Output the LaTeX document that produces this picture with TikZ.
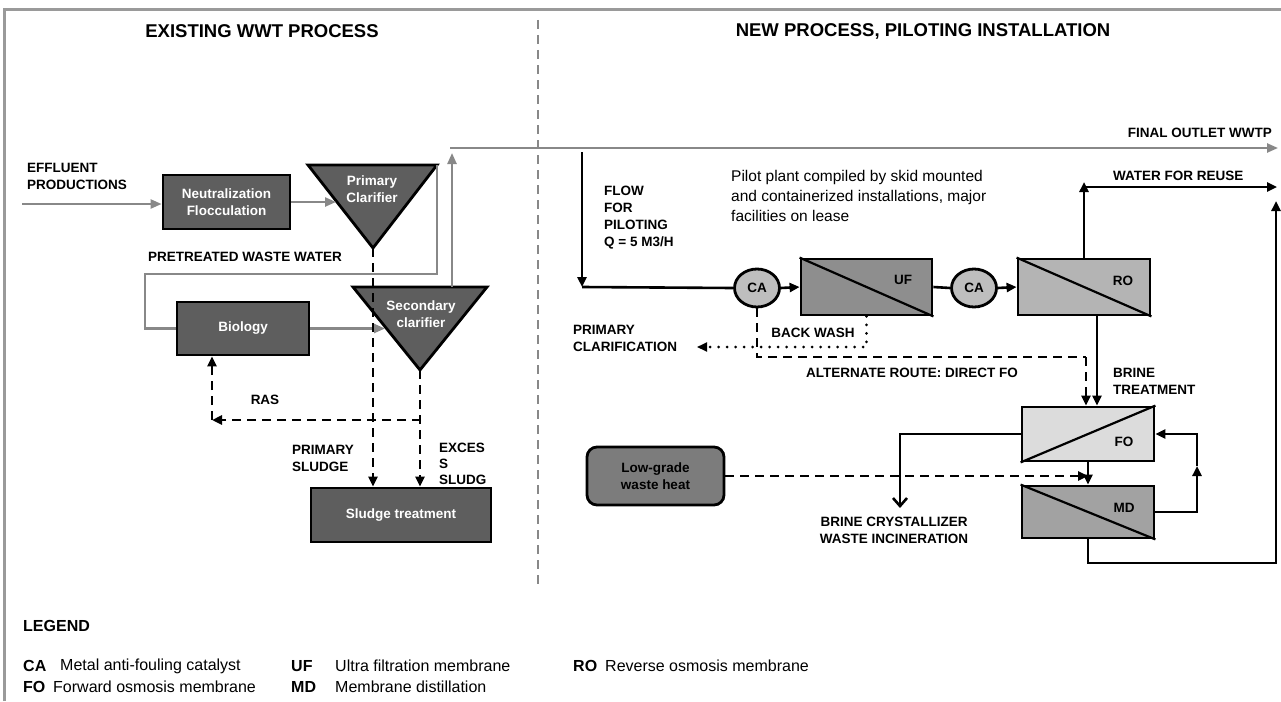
\documentclass[tikz,border=0pt]{standalone}
\usepackage{fontspec}
\setmainfont{Liberation Sans}
\usetikzlibrary{arrows.meta,shapes.geometric}
\definecolor{dk}{HTML}{5E5E5E}
\definecolor{linegray}{HTML}{888888}
\definecolor{framegray}{HTML}{9A9A9A}
\definecolor{cafill}{HTML}{BEBEBE}
\definecolor{uffill}{HTML}{8E8E8E}
\definecolor{rofill}{HTML}{B4B4B4}
\definecolor{fofill}{HTML}{DCDCDC}
\definecolor{mdfill}{HTML}{A2A2A2}
\definecolor{heatfill}{HTML}{7C7C7C}
\begin{document}
\begin{tikzpicture}[x=1pt,y=-1pt,
  lbl/.style={font=\fontsize{13.5}{17}\selectfont\bfseries, inner sep=0pt, align=left},
  head/.style={font=\fontsize{18.5}{22}\selectfont\bfseries, inner sep=0pt},
  boxd/.style={draw=black, line width=2.8pt, fill=dk, text=white, font=\fontsize{13.5}{17}\selectfont\bfseries, align=center, inner sep=0pt},
  memb/.style={draw=black, line width=2.8pt, inner sep=0pt},
  cat/.style={ellipse, draw=black, line width=2.8pt, fill=cafill, minimum width=45pt, minimum height=38pt, inner sep=0pt, font=\fontsize{13.5}{16}\selectfont\bfseries},
  gline/.style={draw=linegray, line width=2.3pt},
  garrow/.style={gline, -{Triangle[length=11pt,width=9pt]}},
  bline/.style={draw=black, line width=2.6pt},
  barrow/.style={bline, -{Triangle[length=10pt,width=9pt]}},
  bdash/.style={bline, dash pattern=on 9pt off 6pt},
  bdarrow/.style={bdash, -{Triangle[length=10pt,width=9pt]}},
  bdot/.style={bline, line width=3pt, line cap=round, dash pattern=on 0pt off 8.5pt},
  leg/.style={font=\fontsize{16}{19}\selectfont, inner sep=0pt, anchor=west},
  legb/.style={font=\fontsize{16}{19}\selectfont\bfseries, inner sep=0pt, anchor=west},
]
\useasboundingbox (0,0) rectangle (1281,701);
\fill[white] (0,0) rectangle (1281,701);
% frame
\draw[framegray, line width=3pt] (4,701) -- (4,10) -- (1281,10);
% divider
\coordinate (div0) at (538,20);
\coordinate (div1) at (538,585);
\draw[linegray, line width=2.2pt, dash pattern=on 9pt off 6pt] (div0) -- (div1);
% headings
\node[head] (h1) at (262,31) {EXISTING WWT PROCESS};
\node[head] (h2) at (923,31) {NEW PROCESS, PILOTING INSTALLATION};

%%%%% LEFT: existing process
\node[boxd, minimum width=127pt, minimum height=54pt] (neut) at (226.5,202) {Neutralization\\Flocculation};
\node[boxd, minimum width=132pt, minimum height=53pt] (bio) at (243,328.5) {Biology};
\node[boxd, minimum width=180pt, minimum height=54pt] (sludge) at (401,515) {Sludge treatment};
% clarifiers
\coordinate (PCtl) at (308,165);
\coordinate (PCtr) at (437,165);
\coordinate (PCap) at (373,248);
\coordinate (PCin) at (336,202);
\filldraw[fill=dk, draw=black, line width=2.8pt, line join=miter] (PCtl) -- (PCtr) -- (PCap) -- cycle;
\node[boxd, draw=none, fill=none] (pclab) at (372,189) {Primary\\Clarifier};
\coordinate (SCtl) at (353,287);
\coordinate (SCtr) at (487,287);
\coordinate (SCap) at (420,370);
\coordinate (SCin) at (385,328.5);
\coordinate (SCout) at (452,287);
\filldraw[fill=dk, draw=black, line width=2.8pt, line join=miter] (SCtl) -- (SCtr) -- (SCap) -- cycle;
\node[boxd, draw=none, fill=none] (sclab) at (421,314) {Secondary\\clarifier};

% gray flows
\coordinate (effin) at (22,204);
\draw[garrow] (effin) -- (effin -| neut.west);
\draw[garrow] (neut.east) -- (PCin);
\coordinate (pw1) at (145,274);
\draw[gline] (PCtr) |- (pw1) |- (bio.west);
\draw[garrow] (bio.east) -- (SCin);
\coordinate (outarr) at (452,153);
\draw[garrow] (SCout) -- (outarr);
\coordinate (fol0) at (450,148);
\coordinate (fol1) at (1278,148);
\draw[garrow] (fol0) -- (fol1);

% sludge lines
\draw[bdarrow] (PCap) -- (PCap |- sludge.north);
\draw[bdarrow] (SCap) -- (SCap |- sludge.north);
\coordinate (ras0) at (421,420);
\coordinate (ras1) at (212,420);
\draw[bdarrow] (ras0) -- (ras1);
\draw[bdarrow] (ras1) -- (ras1 |- bio.south);

% left labels
\node[lbl, anchor=west] (effl) at (27,176.5) {EFFLUENT\\PRODUCTIONS};
\node[lbl, anchor=west] (pwl) at (148,257) {PRETREATED WASTE WATER};
\node[lbl] (rasl) at (265,400) {RAS};
\node[lbl, anchor=west] (psl) at (292,458) {PRIMARY\\SLUDGE};
\node[lbl, anchor=north west, font=\fontsize{13.5}{16}\selectfont\bfseries] (esl) at (439,443) {EXCES\\S\\SLUDG};

%%%%% RIGHT: new process
\node[cat] (ca1) at (757,288) {CA};
\node[memb, fill=uffill, minimum width=131pt, minimum height=56pt] (uf) at (866.5,287) {};
\draw[line width=2.2pt] (uf.north west) -- (uf.south east);
\node[lbl] (ufl) at (903,280) {UF};
\node[cat] (ca2) at (974,288) {CA};
\node[memb, fill=rofill, minimum width=132pt, minimum height=56pt] (ro) at (1084,287) {};
\draw[line width=2.2pt] (ro.north west) -- (ro.south east);
\node[lbl] (rol) at (1123,281) {RO};
\node[memb, fill=fofill, minimum width=132pt, minimum height=54pt] (fo) at (1088,434) {};
\draw[line width=2.2pt] (fo.south west) -- (fo.north east);
\node[lbl] (fol) at (1124,442) {FO};
\node[memb, fill=mdfill, minimum width=132pt, minimum height=52pt] (md) at (1088,512) {};
\draw[line width=2.2pt] (md.north west) -- (md.south east);
\node[lbl] (mdl) at (1124,508) {MD};
\node[draw=black, line width=2.8pt, fill=heatfill, rounded corners=10pt, minimum width=137pt, minimum height=58pt, inner sep=0pt, align=center, font=\fontsize{13.5}{17}\selectfont\bfseries] (heat) at (655.5,476) {Low-grade\\waste heat};

% flow for piloting
\coordinate (flow0) at (582,152);
\coordinate (flow1) at (582,287);
\draw[barrow] (flow0) -- (flow1);
\draw[bline] (flow1) -- (ca1.west);
\draw[barrow] (ca1.east) -- (uf.west);
\draw[bline] (uf.east) -- (ca2.west);
\draw[barrow] (ca2.east) -- (ro.west);
% water for reuse
\coordinate (wr0) at (1084,187);
\coordinate (wr1) at (1277,187);
\draw[barrow] (ro.north) -- ([yshift=5pt]wr0);
\draw[barrow] (wr0) -- (wr1);
% RO -> FO
\coordinate (rob) at (1097,301);
\draw[barrow] (rob |- ro.south) -- (rob |- fo.north);
% alternate route
\coordinate (alt1) at (1086,357);
\draw[bdash] (ca1.south) |- (alt1);
\draw[bdarrow] (alt1) -- (alt1 |- fo.north);
% back wash
\coordinate (bw1) at (697,347);
\draw[bdot] (uf.south) |- (bw1);
\draw[-{Triangle[length=10pt,width=9pt]}, line width=2pt] ([xshift=4pt]bw1) -- (bw1);
% FO -> MD
\draw[barrow] (fo.south) -- (md.north);
% waste heat
\draw[bdarrow] (heat.east) -- (heat.east -| md.north);
% FO -> brine
\coordinate (br1) at (900,508);
\draw[bline, -{Straight Barb[length=8pt,width=14pt]}] (fo.west) -| (br1);
% MD -> FO loop
\coordinate (lpm) at (1197,466);
\draw[barrow] (md.east) -| (lpm);
\draw[barrow] (lpm) |- (fo.east);
% MD -> water reuse
\coordinate (rl) at (1276,563);
\coordinate (rtop) at (1276,201);
\draw[barrow] (md.south) |- (rl) -- (rtop);

% right labels
\node[lbl, anchor=east] (folbl) at (1272,133) {FINAL OUTLET WWTP};
\node[lbl, anchor=west] (wrl) at (1113,176) {WATER FOR REUSE};
\node[lbl, anchor=north west] (flowl) at (604,186) {FLOW\\FOR\\PILOTING\\Q = 5 M3/H};
\node[anchor=north west, inner sep=0pt, align=left, font=\fontsize{15.5}{20}\selectfont] (pilot) at (731,170) {Pilot plant compiled by skid mounted\\and containerized installations, major\\facilities on lease};
\node[lbl] (bwl) at (813,333) {BACK WASH};
\node[lbl, anchor=west] (pcl) at (573,338) {PRIMARY\\CLARIFICATION};
\node[lbl, anchor=west] (altl) at (806,373) {ALTERNATE ROUTE: DIRECT FO};
\node[lbl, anchor=west] (btl) at (1113,381.5) {BRINE\\TREATMENT};
\node[lbl, align=center] (bcl) at (894,530.5) {BRINE CRYSTALLIZER\\WASTE INCINERATION};

% legend
\node[legb] (legt) at (23,626) {LEGEND};
\node[legb] (lca) at (23,666) {CA};
\node[leg] (lcat) at (60,666) {Metal anti-fouling catalyst};
\node[legb] (luf) at (291,666) {UF};
\node[leg] (luft) at (335,666) {Ultra filtration membrane};
\node[legb] (lro) at (573,666) {RO};
\node[leg] (lrot) at (605,666) {Reverse osmosis membrane};
\node[legb] (lfo) at (23,687) {FO};
\node[leg] (lfot) at (53,687) {Forward osmosis membrane};
\node[legb] (lmd) at (291,687) {MD};
\node[leg] (lmdt) at (335,687) {Membrane distillation};
\end{tikzpicture}
\end{document}
